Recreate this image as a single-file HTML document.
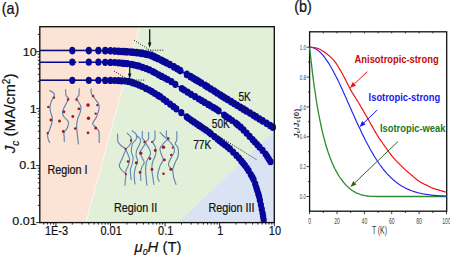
<!DOCTYPE html>
<html><head><meta charset="utf-8"><title>Figure</title>
<style>html,body{margin:0;padding:0;background:#fff}body{width:450px;height:258px;overflow:hidden}</style></head>
<body>
<svg width="450" height="258" viewBox="0 0 450 258" style="display:block">
<rect width="450" height="258" fill="#fff"/>
<defs><clipPath id="cp"><rect x="39.8" y="26.7" width="234.5" height="195.9"/></clipPath><clipPath id="cp2"><rect x="39.8" y="26.7" width="238.5" height="196.3"/></clipPath></defs>
<g clip-path="url(#cp)">
<rect x="39.8" y="26.7" width="234.5" height="195.9" fill="#e2f0d9"/>
<polygon points="39.8,26.7 139.3,26.7 85.8,222.6 39.8,222.6" fill="#fbe3d5"/>
<polygon points="178.3,222.6 274.3,131 274.3,222.6" fill="#dae3f3"/>
<line x1="139.3" y1="26.7" x2="85.8" y2="222.6" stroke="#fff" stroke-width="0.9" opacity=".75"/>
</g>
<g fill="none" stroke="#6083b0" stroke-width="1.15" stroke-linecap="round" stroke-linejoin="round">
<path d="M49.6,90.7 C50.1,90.9 51.7,91.3 52.5,92.0 C53.3,92.7 54.3,93.6 54.4,94.6 C54.5,95.6 53.5,96.9 53.0,98.0 C52.5,99.1 52.0,99.6 51.5,101.0 C51.0,102.4 50.1,104.6 50.0,106.4 C49.9,108.2 50.2,110.1 50.6,112.0 C51.0,113.9 52.1,116.0 52.3,118.0 C52.5,120.0 52.1,122.0 51.6,124.0 C51.1,126.0 50.1,128.3 49.5,130.0 C48.9,131.7 48.0,132.6 47.7,134.0 C47.5,135.4 47.7,137.1 48.0,138.5 C48.3,139.9 49.3,141.8 49.6,142.4"/>
<path d="M65.6,89.6 C65.6,90.2 65.7,91.9 65.8,93.0 C65.9,94.1 65.7,95.1 66.2,96.0 C66.7,96.9 68.7,97.4 68.8,98.4 C68.9,99.4 67.8,100.5 67.0,102.0 C66.2,103.5 65.0,105.8 64.2,107.5 C63.4,109.2 62.4,111.0 62.4,112.5 C62.4,114.0 63.1,115.5 64.0,116.8 C64.8,118.1 66.7,119.5 67.5,120.5 C68.3,121.5 68.6,121.8 68.6,123.0 C68.5,124.2 68.0,126.4 67.2,128.0 C66.4,129.6 64.5,131.3 64.0,132.8 C63.5,134.3 64.2,135.5 64.2,137.0 C64.2,138.5 64.3,140.8 64.3,141.6"/>
<path d="M79.2,88.8 C79.2,89.3 79.1,90.9 79.1,92.0 C79.0,93.1 79.3,94.1 78.9,95.2 C78.5,96.3 76.9,97.3 76.8,98.4 C76.7,99.5 77.8,100.7 78.5,102.0 C79.2,103.3 80.5,104.7 80.8,106.4 C81.1,108.1 80.8,109.9 80.3,112.0 C79.8,114.1 78.2,116.5 77.6,119.0 C77.0,121.5 76.6,124.3 76.6,127.0 C76.6,129.7 77.1,132.2 77.4,135.0 C77.7,137.8 78.2,142.5 78.4,144.0"/>
<path d="M91.2,88.8 C91.2,89.6 90.7,91.9 91.4,93.6 C92.1,95.3 93.9,97.3 95.2,99.2 C96.5,101.1 98.5,102.8 99.0,104.8 C99.5,106.8 99.0,109.1 98.5,111.2 C98.0,113.3 97.2,115.4 96.2,117.5 C95.2,119.6 92.7,122.0 92.6,123.6 C92.5,125.2 94.5,125.7 95.5,127.0 C96.5,128.3 98.2,129.5 98.8,131.2 C99.4,132.9 99.1,135.1 99.2,137.0 C99.3,138.9 99.2,141.5 99.2,142.4"/>
</g>
<g fill="#9c1a1e">
<circle cx="54" cy="97.6" r="1.2"/>
<circle cx="48.3" cy="106.9" r="1.2"/>
<circle cx="50.9" cy="120" r="1.4"/>
<circle cx="59.5" cy="121.1" r="1.5"/>
<circle cx="47.7" cy="133.1" r="1.2"/>
<circle cx="68" cy="99.5" r="1.2"/>
<circle cx="64" cy="111.8" r="1.4"/>
<circle cx="72.8" cy="116.5" r="1.4"/>
<circle cx="63.2" cy="131.5" r="1.4"/>
<circle cx="76.5" cy="99.5" r="1.2"/>
<circle cx="78.9" cy="108.8" r="1.4"/>
<circle cx="75.2" cy="128.5" r="1.3"/>
<circle cx="93.1" cy="96" r="1.2"/>
<circle cx="88" cy="105.1" r="1.8"/>
<circle cx="97.3" cy="105.1" r="1.2"/>
<circle cx="95.7" cy="113.6" r="1.2"/>
<circle cx="88.5" cy="118.2" r="1.7"/>
<circle cx="95.7" cy="128" r="1.5"/>
<circle cx="88" cy="132.8" r="1.4"/>
</g>
<g fill="none" stroke="#6083b0" stroke-width="1.1" stroke-linecap="round" stroke-linejoin="round">
<path d="M117.6,134.0 C117.6,134.7 117.6,136.7 117.7,138.0 C117.8,139.3 117.4,140.7 118.0,142.0 C118.6,143.3 120.2,144.8 121.5,146.0 C122.8,147.2 125.2,147.9 125.6,149.2 C126.0,150.5 124.6,152.4 124.0,154.0 C123.4,155.6 122.8,157.1 122.0,159.0 C121.2,160.9 119.4,163.7 119.3,165.5 C119.2,167.3 120.5,168.6 121.5,170.0 C122.5,171.4 125.0,172.3 125.6,174.0 C126.2,175.7 125.4,178.1 125.3,180.0 C125.2,181.9 125.1,184.3 125.1,185.2"/>
<path d="M125.6,149.2 C126.0,150.0 127.1,152.3 127.8,154.0 C128.5,155.7 129.5,157.8 129.6,159.6 C129.7,161.4 129.1,163.2 128.5,165.0 C127.9,166.8 126.5,169.0 126.0,170.5 C125.5,172.0 125.7,173.4 125.6,174.0"/>
<path d="M127.2,133.2 C127.6,133.6 128.8,134.7 129.5,135.5 C130.2,136.3 130.9,136.9 131.2,138.0 C131.5,139.1 131.8,140.6 131.4,142.0 C131.0,143.4 129.5,145.3 128.5,146.5 C127.5,147.7 126.1,148.8 125.6,149.2"/>
<path d="M132.0,130.8 C132.5,131.2 134.2,132.2 135.0,133.0 C135.8,133.8 136.6,134.5 136.8,135.6 C137.0,136.7 136.7,138.3 136.0,139.6 C135.3,140.9 133.3,141.6 132.5,143.6 C131.7,145.6 131.2,149.4 131.3,151.6 C131.4,153.8 132.8,155.1 133.0,157.0 C133.2,158.9 132.9,161.0 132.5,163.0 C132.1,165.0 130.8,167.0 130.5,169.0 C130.2,171.0 130.5,173.2 130.6,175.0 C130.7,176.8 131.1,178.8 131.2,179.6"/>
<path d="M136.2,135.8 C136.7,136.1 138.2,136.7 139.0,137.5 C139.8,138.3 140.8,139.1 140.8,140.4 C140.8,141.7 139.7,143.7 139.0,145.5 C138.3,147.3 137.0,149.2 136.5,151.0 C136.0,152.8 136.0,154.3 136.2,156.0 C136.4,157.7 137.7,159.4 137.6,161.2 C137.5,163.0 136.1,165.1 135.6,167.0 C135.1,168.9 134.6,170.6 134.4,172.4 C134.2,174.2 134.2,176.1 134.3,178.0 C134.4,179.9 134.9,183.0 135.0,184.0"/>
<path d="M142.4,131.6 C142.4,132.7 141.9,136.2 142.4,138.0 C142.9,139.8 145.6,140.7 145.6,142.4 C145.6,144.1 143.4,146.3 142.5,148.0 C141.6,149.7 140.1,151.0 140.0,152.6 C139.9,154.2 141.3,155.8 142.0,157.5 C142.7,159.2 144.3,160.8 144.2,162.6 C144.1,164.3 142.1,166.1 141.5,168.0 C140.9,169.9 140.7,171.9 140.6,174.0 C140.5,176.1 140.8,179.3 140.8,180.4"/>
<path d="M148.5,132.4 C148.5,133.5 149.0,137.1 148.5,138.8 C148.0,140.5 145.5,140.9 145.6,142.4 C145.7,143.9 148.0,146.2 148.8,148.0 C149.6,149.8 150.7,151.5 150.6,153.2 C150.5,154.9 149.2,156.5 148.5,158.0 C147.8,159.5 146.9,159.9 146.4,162.0 C145.9,164.1 145.6,168.1 145.6,170.8 C145.6,173.5 146.0,175.6 146.2,178.0 C146.4,180.4 146.8,184.0 146.9,185.2"/>
<path d="M154.9,130.8 C154.9,132.1 155.2,136.9 154.9,138.8 C154.6,140.7 152.8,140.8 152.8,142.0 C152.8,143.2 154.3,144.7 154.8,146.0 C155.3,147.3 155.9,148.3 156.0,150.0 C156.1,151.7 155.8,154.0 155.2,156.0 C154.6,158.0 153.2,159.8 152.6,162.0 C152.0,164.2 151.8,166.5 151.8,169.0 C151.8,171.5 152.5,174.4 152.8,177.0 C153.2,179.6 153.7,183.2 153.9,184.4"/>
<path d="M160.0,132.4 C160.4,132.8 161.6,134.1 162.5,135.0 C163.4,135.9 164.2,136.6 165.5,137.8 C166.8,139.0 168.7,140.5 170.0,142.0 C171.3,143.5 172.9,145.2 173.6,146.8 C174.3,148.4 174.7,149.9 174.4,151.6 C174.1,153.3 172.5,155.3 171.6,157.0 C170.7,158.7 169.5,160.5 169.0,162.0 C168.5,163.5 168.2,164.7 168.8,166.0 C169.4,167.3 171.7,168.1 172.5,170.0 C173.3,171.9 173.0,174.8 173.6,177.2 C174.2,179.6 175.6,183.2 176.0,184.4"/>
<path d="M166.4,130.8 C166.4,131.7 166.1,135.1 166.4,136.4 C166.7,137.7 168.5,137.6 168.0,138.8 C167.5,140.0 164.7,142.0 163.4,143.6 C162.1,145.2 160.4,146.7 160.0,148.4 C159.6,150.1 160.7,152.1 161.2,154.0 C161.7,155.9 163.3,157.8 163.2,159.6 C163.1,161.4 161.3,163.1 160.5,165.0 C159.7,166.9 158.9,169.0 158.4,171.0 C157.9,173.0 157.5,175.5 157.6,177.2 C157.7,178.9 158.9,180.5 159.2,181.2"/>
<path d="M176.8,131.6 C176.8,132.9 177.1,137.6 176.8,139.6 C176.5,141.6 175.1,142.4 175.2,143.6 C175.3,144.8 177.0,145.6 177.6,147.0 C178.2,148.4 178.5,150.2 178.5,152.0 C178.5,153.8 178.2,155.7 177.6,157.5 C177.0,159.3 175.8,160.9 175.0,163.0 C174.2,165.1 172.9,168.8 172.5,170.0"/>
</g>
<g fill="#9c1a1e">
<circle cx="130.9" cy="140.4" r="1.1"/>
<circle cx="125.6" cy="148.8" r="1.1"/>
<circle cx="128" cy="161.5" r="1.3"/>
<circle cx="136.3" cy="162.8" r="1.5"/>
<circle cx="144.5" cy="142" r="1.2"/>
<circle cx="140.8" cy="153.2" r="1.6"/>
<circle cx="150" cy="158.6" r="1.3"/>
<circle cx="152" cy="142" r="1.1"/>
<circle cx="155.2" cy="150.5" r="1.4"/>
<circle cx="152" cy="169.5" r="1.4"/>
<circle cx="140" cy="172.4" r="1.3"/>
<circle cx="126" cy="174.3" r="1.0"/>
<circle cx="168.3" cy="138.5" r="1.3"/>
<circle cx="163.5" cy="147.3" r="1.7"/>
<circle cx="172.8" cy="147.6" r="1.1"/>
<circle cx="171.2" cy="154.9" r="1.2"/>
<circle cx="164.4" cy="159.9" r="1.4"/>
<circle cx="170.9" cy="169.2" r="1.5"/>
<circle cx="163.5" cy="173.7" r="1.3"/>
</g>
<g clip-path="url(#cp2)">
<polyline points="39.8,50.6 41.5,50.6 43.2,50.6 44.9,50.6 46.6,50.6 48.3,50.6 50.0,50.6 51.7,50.6 53.4,50.6 55.1,50.6 56.8,50.6 58.5,50.6 60.2,50.6 61.9,50.6 63.6,50.6 65.3,50.6 67.0,50.6 68.7,50.6 70.4,50.6 72.1,50.6 73.8,50.6 75.5,50.6 77.2,50.6 78.9,50.6 80.6,50.6 82.3,50.6 84.0,50.6 85.7,50.6 87.4,50.6 89.1,50.6 90.8,50.6 92.5,50.6 94.2,50.6 95.9,50.6 97.6,50.6 99.3,50.6 101.0,50.6 102.7,50.7 104.4,50.7 106.1,50.7 107.8,50.8 109.5,50.8 111.2,50.9 112.9,51.0 114.6,51.1 116.3,51.2 118.0,51.3 119.7,51.4 121.4,51.5 123.1,51.6 124.8,51.7 126.5,51.8 128.2,51.9 129.9,52.0 131.6,52.2 133.3,52.3 134.9,52.5 136.6,52.7 138.3,52.8 140.0,53.0 141.7,53.3 143.4,53.7 145.0,54.0 146.7,54.3 148.4,54.7 150.0,55.1 151.6,55.7 153.1,56.4 154.7,57.1 156.2,57.8 157.8,58.5 159.3,59.2 160.9,59.9 162.4,60.7 163.9,61.5 165.4,62.3 166.9,63.0 168.4,63.8 169.9,64.6 171.4,65.4 172.9,66.3 174.4,67.1 175.8,68.0 177.3,68.8 178.8,69.7 180.2,70.5 181.7,71.4 183.2,72.3 184.6,73.1 186.1,74.0 187.6,74.9 189.0,75.7 190.5,76.6 191.9,77.5 193.4,78.3 194.9,79.2 196.3,80.1 197.8,80.9 199.3,81.8 200.7,82.7 202.2,83.5 203.6,84.4 205.1,85.3 206.5,86.2 208.0,87.1 209.4,88.0 210.8,88.9 212.3,89.8 213.7,90.7 215.1,91.7 216.6,92.6 218.0,93.5 219.4,94.4 220.9,95.3 222.3,96.2 223.8,97.1 225.2,98.0 226.7,98.9 228.1,99.8 229.6,100.7 231.0,101.6 232.5,102.5 233.9,103.3 235.4,104.2 236.8,105.1 238.3,106.0 239.7,106.9 241.2,107.8 242.6,108.6 244.1,109.5 245.5,110.4 247.0,111.3 248.4,112.2 249.9,113.1 251.3,114.0 252.8,114.8 254.2,115.7 255.7,116.6 257.1,117.5 258.6,118.4 260.0,119.3 261.5,120.2 262.9,121.1 264.4,121.9 265.8,122.8 267.3,123.7 268.7,124.6 270.2,125.5 271.6,126.4 273.1,127.3" fill="none" stroke="#07079b" stroke-width="1.5"/>
<g fill="#07079b">
<ellipse cx="72.3" cy="50.6" rx="3.1" ry="3.85"/>
<ellipse cx="88.8" cy="50.6" rx="3.1" ry="3.85"/>
<ellipse cx="98.4" cy="50.6" rx="3.1" ry="3.85"/>
<ellipse cx="105.2" cy="50.7" rx="3.1" ry="3.85"/>
<ellipse cx="110.5" cy="50.8" rx="3.1" ry="3.85"/>
<ellipse cx="114.8" cy="51.1" rx="3.1" ry="3.85"/>
<ellipse cx="118.5" cy="51.3" rx="3.1" ry="3.85"/>
<ellipse cx="121.7" cy="51.5" rx="3.1" ry="3.85"/>
<ellipse cx="124.7" cy="51.7" rx="3.1" ry="3.85"/>
<ellipse cx="127.3" cy="51.8" rx="3.1" ry="3.85"/>
<ellipse cx="130.8" cy="52.1" rx="3.1" ry="3.85"/>
<ellipse cx="133.3" cy="52.3" rx="3.1" ry="3.85"/>
<ellipse cx="136.6" cy="52.7" rx="3.1" ry="3.85"/>
<ellipse cx="139.7" cy="53.0" rx="3.1" ry="3.85"/>
<ellipse cx="142.1" cy="53.4" rx="3.1" ry="3.85"/>
<ellipse cx="145.3" cy="54.1" rx="3.1" ry="3.85"/>
<ellipse cx="147.7" cy="54.5" rx="3.1" ry="3.85"/>
<ellipse cx="150.7" cy="55.3" rx="3.1" ry="3.85"/>
<ellipse cx="153.0" cy="56.3" rx="3.1" ry="3.85"/>
<ellipse cx="155.3" cy="57.4" rx="3.1" ry="3.85"/>
<ellipse cx="158.1" cy="58.7" rx="3.1" ry="3.85"/>
<ellipse cx="161.6" cy="60.3" rx="3.1" ry="3.85"/>
<ellipse cx="163.9" cy="61.5" rx="3.1" ry="3.85"/>
<ellipse cx="166.4" cy="62.8" rx="3.1" ry="3.85"/>
<ellipse cx="169.9" cy="64.6" rx="3.1" ry="3.85"/>
<ellipse cx="174.0" cy="66.9" rx="3.1" ry="3.85"/>
<ellipse cx="177.3" cy="68.8" rx="3.1" ry="3.85"/>
<ellipse cx="180.3" cy="70.6" rx="3.1" ry="3.85"/>
<ellipse cx="186.8" cy="74.4" rx="3.1" ry="3.85"/>
<ellipse cx="190.6" cy="76.7" rx="3.1" ry="3.85"/>
<ellipse cx="193.4" cy="78.3" rx="3.1" ry="3.85"/>
<ellipse cx="196.0" cy="79.9" rx="3.1" ry="3.85"/>
<ellipse cx="198.5" cy="81.3" rx="3.1" ry="3.85"/>
<ellipse cx="201.3" cy="83.0" rx="3.1" ry="3.85"/>
<ellipse cx="205.1" cy="85.3" rx="3.1" ry="3.85"/>
<ellipse cx="207.6" cy="86.9" rx="3.1" ry="3.85"/>
<ellipse cx="210.9" cy="89.0" rx="3.1" ry="3.85"/>
<ellipse cx="214.3" cy="91.1" rx="3.1" ry="3.85"/>
<ellipse cx="217.2" cy="93.0" rx="3.1" ry="3.85"/>
<ellipse cx="220.4" cy="95.0" rx="3.1" ry="3.85"/>
<ellipse cx="222.7" cy="96.5" rx="3.1" ry="3.85"/>
<ellipse cx="225.1" cy="98.0" rx="3.1" ry="3.85"/>
<ellipse cx="227.7" cy="99.6" rx="3.1" ry="3.85"/>
<ellipse cx="231.2" cy="101.7" rx="3.1" ry="3.85"/>
<ellipse cx="234.2" cy="103.5" rx="3.1" ry="3.85"/>
<ellipse cx="237.1" cy="105.3" rx="3.1" ry="3.85"/>
<ellipse cx="240.4" cy="107.3" rx="3.1" ry="3.85"/>
<ellipse cx="243.5" cy="109.2" rx="3.1" ry="3.85"/>
<ellipse cx="246.3" cy="110.9" rx="3.1" ry="3.85"/>
<ellipse cx="250.0" cy="113.1" rx="3.1" ry="3.85"/>
<ellipse cx="253.5" cy="115.3" rx="3.1" ry="3.85"/>
<ellipse cx="256.2" cy="116.9" rx="3.1" ry="3.85"/>
<ellipse cx="259.5" cy="119.0" rx="3.1" ry="3.85"/>
<ellipse cx="262.7" cy="120.9" rx="3.1" ry="3.85"/>
<ellipse cx="266.6" cy="123.3" rx="3.1" ry="3.85"/>
<ellipse cx="270.2" cy="125.5" rx="3.1" ry="3.85"/>
<ellipse cx="272.9" cy="127.2" rx="3.1" ry="3.85"/>
</g>
<polyline points="39.8,62.2 41.6,62.2 43.3,62.2 45.1,62.2 46.9,62.2 48.7,62.2 50.4,62.2 52.2,62.2 54.0,62.2 55.7,62.2 57.5,62.2 59.3,62.2 61.0,62.2 62.8,62.2 64.6,62.2 66.4,62.2 68.1,62.2 69.9,62.2 71.7,62.2 73.4,62.2 75.2,62.2 77.0,62.2 78.8,62.2 80.5,62.2 82.3,62.2 84.1,62.2 85.8,62.2 87.6,62.2 89.4,62.2 91.1,62.2 92.9,62.2 94.7,62.2 96.5,62.2 98.2,62.2 100.0,62.2 101.8,62.2 103.5,62.3 105.3,62.3 107.1,62.3 108.9,62.4 110.6,62.4 112.4,62.4 114.2,62.5 115.9,62.6 117.7,62.8 119.5,62.9 121.2,63.1 123.0,63.3 124.7,63.5 126.5,63.7 128.3,63.8 130.0,64.1 131.7,64.4 133.5,64.8 135.2,65.2 136.9,65.6 138.7,66.0 140.4,66.5 142.0,67.0 143.7,67.7 145.3,68.3 147.0,68.9 148.7,69.5 150.3,70.2 151.9,71.0 153.4,71.9 155.0,72.7 156.5,73.6 158.1,74.4 159.6,75.3 161.2,76.1 162.7,77.0 164.3,77.8 165.9,78.6 167.4,79.4 169.0,80.3 170.5,81.2 172.0,82.1 173.5,83.1 175.0,84.1 176.5,85.0 177.9,86.0 179.4,87.0 180.9,87.9 182.4,88.9 183.9,89.9 185.4,90.8 186.9,91.8 188.4,92.7 189.9,93.6 191.4,94.5 192.9,95.4 194.5,96.3 196.0,97.2 197.5,98.1 199.0,99.0 200.6,99.9 202.1,100.8 203.6,101.7 205.1,102.6 206.7,103.5 208.2,104.4 209.7,105.3 211.2,106.2 212.7,107.1 214.3,108.1 215.8,109.0 217.3,109.9 218.7,110.9 220.1,112.0 221.5,113.1 222.9,114.2 224.3,115.2 225.8,116.2 227.3,117.2 228.8,118.2 230.2,119.2 231.7,120.2 233.2,121.1 234.6,122.2 236.0,123.3 237.3,124.4 238.7,125.6 240.1,126.7 241.4,127.8 242.7,129.0 243.9,130.3 245.1,131.6 246.3,132.9 247.5,134.2 248.8,135.5 250.0,136.8 251.2,138.1 252.4,139.4 253.6,140.7 254.8,142.0 256.0,143.3 257.2,144.6 258.4,145.9 259.6,147.2 260.8,148.5 262.0,149.8 263.2,151.1 264.4,152.4 265.5,153.8 266.4,155.3 267.4,156.8 268.3,158.3 269.3,159.8 270.2,161.3" fill="none" stroke="#07079b" stroke-width="1.5"/>
<g fill="#07079b">
<ellipse cx="72.3" cy="62.2" rx="3.1" ry="3.6"/>
<ellipse cx="88.8" cy="62.2" rx="3.1" ry="3.6"/>
<ellipse cx="98.4" cy="62.2" rx="3.1" ry="3.6"/>
<ellipse cx="105.2" cy="62.3" rx="3.1" ry="3.6"/>
<ellipse cx="110.5" cy="62.4" rx="3.1" ry="3.6"/>
<ellipse cx="114.8" cy="62.5" rx="3.1" ry="3.6"/>
<ellipse cx="118.5" cy="62.8" rx="3.1" ry="3.6"/>
<ellipse cx="121.7" cy="63.2" rx="3.1" ry="3.6"/>
<ellipse cx="124.3" cy="63.4" rx="3.1" ry="3.6"/>
<ellipse cx="127.4" cy="63.7" rx="3.1" ry="3.6"/>
<ellipse cx="131.1" cy="64.3" rx="3.1" ry="3.6"/>
<ellipse cx="133.7" cy="64.8" rx="3.1" ry="3.6"/>
<ellipse cx="136.8" cy="65.6" rx="3.1" ry="3.6"/>
<ellipse cx="139.2" cy="66.1" rx="3.1" ry="3.6"/>
<ellipse cx="142.6" cy="67.3" rx="3.1" ry="3.6"/>
<ellipse cx="146.2" cy="68.6" rx="3.1" ry="3.6"/>
<ellipse cx="149.4" cy="69.8" rx="3.1" ry="3.6"/>
<ellipse cx="152.9" cy="71.6" rx="3.1" ry="3.6"/>
<ellipse cx="155.5" cy="73.0" rx="3.1" ry="3.6"/>
<ellipse cx="158.7" cy="74.8" rx="3.1" ry="3.6"/>
<ellipse cx="161.7" cy="76.4" rx="3.1" ry="3.6"/>
<ellipse cx="164.8" cy="78.0" rx="3.1" ry="3.6"/>
<ellipse cx="167.6" cy="79.5" rx="3.1" ry="3.6"/>
<ellipse cx="171.4" cy="81.7" rx="3.1" ry="3.6"/>
<ellipse cx="175.3" cy="84.3" rx="3.1" ry="3.6"/>
<ellipse cx="181.8" cy="88.5" rx="3.1" ry="3.6"/>
<ellipse cx="184.1" cy="90.0" rx="3.1" ry="3.6"/>
<ellipse cx="187.6" cy="92.2" rx="3.1" ry="3.6"/>
<ellipse cx="191.0" cy="94.3" rx="3.1" ry="3.6"/>
<ellipse cx="195.1" cy="96.7" rx="3.1" ry="3.6"/>
<ellipse cx="198.9" cy="99.0" rx="3.1" ry="3.6"/>
<ellipse cx="201.7" cy="100.6" rx="3.1" ry="3.6"/>
<ellipse cx="204.7" cy="102.4" rx="3.1" ry="3.6"/>
<ellipse cx="208.2" cy="104.4" rx="3.1" ry="3.6"/>
<ellipse cx="210.5" cy="105.8" rx="3.1" ry="3.6"/>
<ellipse cx="213.6" cy="107.7" rx="3.1" ry="3.6"/>
<ellipse cx="216.2" cy="109.2" rx="3.1" ry="3.6"/>
<ellipse cx="218.6" cy="110.8" rx="3.1" ry="3.6"/>
<ellipse cx="224.2" cy="115.1" rx="3.1" ry="3.6"/>
<ellipse cx="226.6" cy="116.8" rx="3.1" ry="3.6"/>
<ellipse cx="229.3" cy="118.5" rx="3.1" ry="3.6"/>
<ellipse cx="232.1" cy="120.5" rx="3.1" ry="3.6"/>
<ellipse cx="235.8" cy="123.1" rx="3.1" ry="3.6"/>
<ellipse cx="237.9" cy="124.9" rx="3.1" ry="3.6"/>
<ellipse cx="240.7" cy="127.2" rx="3.1" ry="3.6"/>
<ellipse cx="243.5" cy="129.9" rx="3.1" ry="3.6"/>
<ellipse cx="246.6" cy="133.2" rx="3.1" ry="3.6"/>
<ellipse cx="249.6" cy="136.4" rx="3.1" ry="3.6"/>
<ellipse cx="252.6" cy="139.6" rx="3.1" ry="3.6"/>
<ellipse cx="254.8" cy="142.0" rx="3.1" ry="3.6"/>
<ellipse cx="257.2" cy="144.6" rx="3.1" ry="3.6"/>
<ellipse cx="259.5" cy="147.1" rx="3.1" ry="3.6"/>
<ellipse cx="262.6" cy="150.4" rx="3.1" ry="3.6"/>
<ellipse cx="265.6" cy="154.0" rx="3.1" ry="3.6"/>
<ellipse cx="267.2" cy="156.5" rx="3.1" ry="3.6"/>
<ellipse cx="268.8" cy="159.1" rx="3.1" ry="3.6"/>
<ellipse cx="270.5" cy="161.7" rx="3.1" ry="3.6"/>
</g>
<polyline points="39.8,80.3 41.8,80.3 43.7,80.3 45.7,80.3 47.7,80.3 49.6,80.3 51.6,80.3 53.6,80.3 55.5,80.3 57.5,80.3 59.5,80.3 61.4,80.3 63.4,80.3 65.4,80.3 67.3,80.3 69.3,80.3 71.3,80.3 73.2,80.3 75.2,80.3 77.2,80.3 79.1,80.3 81.1,80.3 83.1,80.3 85.0,80.3 87.0,80.3 89.0,80.3 90.9,80.3 92.9,80.3 94.9,80.3 96.8,80.3 98.8,80.3 100.8,80.3 102.7,80.3 104.7,80.4 106.7,80.4 108.6,80.4 110.6,80.4 112.6,80.5 114.5,80.5 116.5,80.6 118.5,80.6 120.4,80.7 122.4,80.8 124.4,80.9 126.3,81.1 128.3,81.4 130.2,81.8 132.0,82.5 133.9,83.1 135.7,83.8 137.6,84.5 139.4,85.2 141.2,86.0 143.0,86.9 144.7,87.8 146.5,88.6 148.2,89.5 150.0,90.4 151.7,91.4 153.3,92.4 155.0,93.5 156.7,94.5 158.4,95.5 160.0,96.6 161.6,97.7 163.2,98.9 164.8,100.1 166.4,101.3 167.9,102.4 169.5,103.6 171.1,104.8 172.6,106.0 174.2,107.2 175.8,108.4 177.3,109.6 178.9,110.8 180.4,112.0 182.0,113.2 183.5,114.4 185.1,115.6 186.7,116.8 188.2,118.0 189.8,119.1 191.4,120.3 193.1,121.4 194.7,122.5 196.3,123.6 198.0,124.7 199.6,125.8 201.2,126.9 202.8,128.0 204.4,129.1 206.1,130.2 207.7,131.4 209.3,132.5 210.8,133.7 212.4,134.9 213.9,136.2 215.4,137.4 216.9,138.6 218.5,139.9 220.0,141.1 221.6,142.3 223.1,143.5 224.7,144.7 226.3,145.9 227.8,147.1 229.3,148.4 230.7,149.7 232.1,151.1 233.5,152.5 234.9,153.9 236.3,155.3 237.7,156.7 239.0,158.1 240.3,159.6 241.5,161.1 242.7,162.7 244.0,164.2 245.2,165.8 246.4,167.3 247.5,168.9 248.5,170.6 249.5,172.3 250.5,174.0 251.5,175.7 252.5,177.4 253.5,179.1 254.3,180.9 254.9,182.8 255.5,184.6 256.0,186.5 256.6,188.4 257.2,190.3 257.8,192.2 258.4,194.0 258.9,195.9 259.4,197.8 259.8,199.8 260.2,201.7 260.6,203.6 261.0,205.5 261.5,207.4 261.9,209.4 262.2,211.3 262.6,213.2 262.9,215.2 263.2,217.1 263.6,219.0 263.9,221.0" fill="none" stroke="#07079b" stroke-width="1.5"/>
<g fill="#07079b">
<ellipse cx="72.3" cy="80.3" rx="3.1" ry="3.6"/>
<ellipse cx="88.8" cy="80.3" rx="3.1" ry="3.6"/>
<ellipse cx="98.4" cy="80.3" rx="3.1" ry="3.6"/>
<ellipse cx="105.2" cy="80.4" rx="3.1" ry="3.6"/>
<ellipse cx="110.5" cy="80.4" rx="3.1" ry="3.6"/>
<ellipse cx="114.8" cy="80.5" rx="3.1" ry="3.6"/>
<ellipse cx="118.5" cy="80.6" rx="3.1" ry="3.6"/>
<ellipse cx="121.7" cy="80.8" rx="3.1" ry="3.6"/>
<ellipse cx="125.0" cy="81.0" rx="3.1" ry="3.6"/>
<ellipse cx="128.4" cy="81.4" rx="3.1" ry="3.6"/>
<ellipse cx="131.1" cy="82.1" rx="3.1" ry="3.6"/>
<ellipse cx="133.3" cy="82.9" rx="3.1" ry="3.6"/>
<ellipse cx="136.3" cy="84.0" rx="3.1" ry="3.6"/>
<ellipse cx="139.1" cy="85.1" rx="3.1" ry="3.6"/>
<ellipse cx="142.2" cy="86.5" rx="3.1" ry="3.6"/>
<ellipse cx="145.9" cy="88.4" rx="3.1" ry="3.6"/>
<ellipse cx="149.2" cy="90.0" rx="3.1" ry="3.6"/>
<ellipse cx="152.0" cy="91.6" rx="3.1" ry="3.6"/>
<ellipse cx="155.0" cy="93.5" rx="3.1" ry="3.6"/>
<ellipse cx="158.1" cy="95.4" rx="3.1" ry="3.6"/>
<ellipse cx="160.2" cy="96.7" rx="3.1" ry="3.6"/>
<ellipse cx="163.4" cy="99.1" rx="3.1" ry="3.6"/>
<ellipse cx="166.5" cy="101.4" rx="3.1" ry="3.6"/>
<ellipse cx="170.1" cy="104.1" rx="3.1" ry="3.6"/>
<ellipse cx="173.5" cy="106.7" rx="3.1" ry="3.6"/>
<ellipse cx="176.3" cy="108.8" rx="3.1" ry="3.6"/>
<ellipse cx="181.3" cy="112.7" rx="3.1" ry="3.6"/>
<ellipse cx="186.7" cy="116.8" rx="3.1" ry="3.6"/>
<ellipse cx="188.9" cy="118.5" rx="3.1" ry="3.6"/>
<ellipse cx="191.4" cy="120.3" rx="3.1" ry="3.6"/>
<ellipse cx="193.9" cy="121.9" rx="3.1" ry="3.6"/>
<ellipse cx="196.7" cy="123.8" rx="3.1" ry="3.6"/>
<ellipse cx="199.0" cy="125.4" rx="3.1" ry="3.6"/>
<ellipse cx="201.2" cy="126.8" rx="3.1" ry="3.6"/>
<ellipse cx="203.6" cy="128.5" rx="3.1" ry="3.6"/>
<ellipse cx="206.0" cy="130.2" rx="3.1" ry="3.6"/>
<ellipse cx="208.8" cy="132.1" rx="3.1" ry="3.6"/>
<ellipse cx="210.9" cy="133.8" rx="3.1" ry="3.6"/>
<ellipse cx="214.4" cy="136.6" rx="3.1" ry="3.6"/>
<ellipse cx="217.5" cy="139.1" rx="3.1" ry="3.6"/>
<ellipse cx="219.8" cy="140.9" rx="3.1" ry="3.6"/>
<ellipse cx="222.3" cy="142.9" rx="3.1" ry="3.6"/>
<ellipse cx="225.0" cy="144.9" rx="3.1" ry="3.6"/>
<ellipse cx="227.7" cy="147.0" rx="3.1" ry="3.6"/>
<ellipse cx="229.9" cy="148.9" rx="3.1" ry="3.6"/>
<ellipse cx="233.1" cy="152.1" rx="3.1" ry="3.6"/>
<ellipse cx="236.4" cy="155.4" rx="3.1" ry="3.6"/>
<ellipse cx="239.0" cy="158.0" rx="3.1" ry="3.6"/>
<ellipse cx="241.3" cy="160.9" rx="3.1" ry="3.6"/>
<ellipse cx="243.1" cy="163.1" rx="3.1" ry="3.6"/>
<ellipse cx="244.9" cy="165.3" rx="3.1" ry="3.6"/>
<ellipse cx="246.9" cy="168.0" rx="3.1" ry="3.6"/>
<ellipse cx="248.6" cy="170.7" rx="3.1" ry="3.6"/>
<ellipse cx="250.8" cy="174.5" rx="3.1" ry="3.6"/>
<ellipse cx="252.3" cy="177.1" rx="3.1" ry="3.6"/>
<ellipse cx="253.6" cy="179.5" rx="3.1" ry="3.6"/>
<ellipse cx="255.2" cy="183.9" rx="3.1" ry="3.6"/>
<ellipse cx="256.3" cy="187.5" rx="3.1" ry="3.6"/>
<ellipse cx="257.2" cy="190.3" rx="3.1" ry="3.6"/>
<ellipse cx="258.3" cy="193.9" rx="3.1" ry="3.6"/>
<ellipse cx="259.1" cy="196.5" rx="3.1" ry="3.6"/>
<ellipse cx="259.9" cy="200.2" rx="3.1" ry="3.6"/>
<ellipse cx="260.9" cy="204.8" rx="3.1" ry="3.6"/>
<ellipse cx="261.8" cy="209.2" rx="3.1" ry="3.6"/>
<ellipse cx="262.6" cy="213.3" rx="3.1" ry="3.6"/>
<ellipse cx="263.1" cy="216.4" rx="3.1" ry="3.6"/>
<ellipse cx="263.7" cy="219.8" rx="3.1" ry="3.6"/>
</g>
<rect x="76.3" y="60.5" width="2.2" height="3.4" fill="#fbe3d5"/>
<g stroke="#1a1a1a" stroke-width="0.9" stroke-dasharray="1.1,1.3" fill="none">
<line x1="39.8" y1="50.2" x2="164.6" y2="50.2"/>
<line x1="134" y1="40.2" x2="274" y2="127.3"/>
<line x1="39.8" y1="80.1" x2="145.5" y2="80.1"/>
<line x1="114" y1="71" x2="257" y2="160"/>
</g>
</g>
<g stroke="#111" stroke-width="1.25" fill="#111">
<line x1="149.7" y1="29.2" x2="149.7" y2="44"/><polygon points="148,42.6 151.4,42.6 149.7,48" stroke="none"/>
<line x1="129.7" y1="63" x2="129.7" y2="75"/><polygon points="128,73.6 131.4,73.6 129.7,79" stroke="none"/>
</g>
<rect x="39.8" y="26.7" width="234.5" height="195.9" fill="none" stroke="#111" stroke-width="1.35"/>
<g stroke="#111" stroke-width="0.9">
<line x1="36.199999999999996" y1="222.6" x2="39.8" y2="222.6"/>
<line x1="37.8" y1="205.4" x2="39.8" y2="205.4"/>
<line x1="37.8" y1="195.4" x2="39.8" y2="195.4"/>
<line x1="37.8" y1="188.3" x2="39.8" y2="188.3"/>
<line x1="37.8" y1="182.8" x2="39.8" y2="182.8"/>
<line x1="37.8" y1="178.2" x2="39.8" y2="178.2"/>
<line x1="37.8" y1="174.4" x2="39.8" y2="174.4"/>
<line x1="37.8" y1="171.1" x2="39.8" y2="171.1"/>
<line x1="37.8" y1="168.2" x2="39.8" y2="168.2"/>
<line x1="36.199999999999996" y1="165.6" x2="39.8" y2="165.6"/>
<line x1="37.8" y1="148.4" x2="39.8" y2="148.4"/>
<line x1="37.8" y1="138.4" x2="39.8" y2="138.4"/>
<line x1="37.8" y1="131.3" x2="39.8" y2="131.3"/>
<line x1="37.8" y1="125.8" x2="39.8" y2="125.8"/>
<line x1="37.8" y1="121.2" x2="39.8" y2="121.2"/>
<line x1="37.8" y1="117.4" x2="39.8" y2="117.4"/>
<line x1="37.8" y1="114.1" x2="39.8" y2="114.1"/>
<line x1="37.8" y1="111.2" x2="39.8" y2="111.2"/>
<line x1="36.199999999999996" y1="108.6" x2="39.8" y2="108.6"/>
<line x1="37.8" y1="91.4" x2="39.8" y2="91.4"/>
<line x1="37.8" y1="81.4" x2="39.8" y2="81.4"/>
<line x1="37.8" y1="74.3" x2="39.8" y2="74.3"/>
<line x1="37.8" y1="68.8" x2="39.8" y2="68.8"/>
<line x1="37.8" y1="64.2" x2="39.8" y2="64.2"/>
<line x1="37.8" y1="60.4" x2="39.8" y2="60.4"/>
<line x1="37.8" y1="57.1" x2="39.8" y2="57.1"/>
<line x1="37.8" y1="54.2" x2="39.8" y2="54.2"/>
<line x1="36.199999999999996" y1="51.6" x2="39.8" y2="51.6"/>
<line x1="37.8" y1="34.4" x2="39.8" y2="34.4"/>
<line x1="55.9" y1="222.6" x2="55.9" y2="226.4"/>
<line x1="43.8" y1="222.6" x2="43.8" y2="224.6"/>
<line x1="47.4" y1="222.6" x2="47.4" y2="224.6"/>
<line x1="50.6" y1="222.6" x2="50.6" y2="224.6"/>
<line x1="53.4" y1="222.6" x2="53.4" y2="224.6"/>
<line x1="110.5" y1="222.6" x2="110.5" y2="226.4"/>
<line x1="72.3" y1="222.6" x2="72.3" y2="224.6"/>
<line x1="82.0" y1="222.6" x2="82.0" y2="224.6"/>
<line x1="88.8" y1="222.6" x2="88.8" y2="224.6"/>
<line x1="94.1" y1="222.6" x2="94.1" y2="224.6"/>
<line x1="98.4" y1="222.6" x2="98.4" y2="224.6"/>
<line x1="102.0" y1="222.6" x2="102.0" y2="224.6"/>
<line x1="105.2" y1="222.6" x2="105.2" y2="224.6"/>
<line x1="108.0" y1="222.6" x2="108.0" y2="224.6"/>
<line x1="165.1" y1="222.6" x2="165.1" y2="226.4"/>
<line x1="126.9" y1="222.6" x2="126.9" y2="224.6"/>
<line x1="136.6" y1="222.6" x2="136.6" y2="224.6"/>
<line x1="143.4" y1="222.6" x2="143.4" y2="224.6"/>
<line x1="148.7" y1="222.6" x2="148.7" y2="224.6"/>
<line x1="153.0" y1="222.6" x2="153.0" y2="224.6"/>
<line x1="156.6" y1="222.6" x2="156.6" y2="224.6"/>
<line x1="159.8" y1="222.6" x2="159.8" y2="224.6"/>
<line x1="162.6" y1="222.6" x2="162.6" y2="224.6"/>
<line x1="219.7" y1="222.6" x2="219.7" y2="226.4"/>
<line x1="181.5" y1="222.6" x2="181.5" y2="224.6"/>
<line x1="191.2" y1="222.6" x2="191.2" y2="224.6"/>
<line x1="198.0" y1="222.6" x2="198.0" y2="224.6"/>
<line x1="203.3" y1="222.6" x2="203.3" y2="224.6"/>
<line x1="207.6" y1="222.6" x2="207.6" y2="224.6"/>
<line x1="211.2" y1="222.6" x2="211.2" y2="224.6"/>
<line x1="214.4" y1="222.6" x2="214.4" y2="224.6"/>
<line x1="217.2" y1="222.6" x2="217.2" y2="224.6"/>
<line x1="274.3" y1="222.6" x2="274.3" y2="226.4"/>
<line x1="236.1" y1="222.6" x2="236.1" y2="224.6"/>
<line x1="245.8" y1="222.6" x2="245.8" y2="224.6"/>
<line x1="252.6" y1="222.6" x2="252.6" y2="224.6"/>
<line x1="257.9" y1="222.6" x2="257.9" y2="224.6"/>
<line x1="262.2" y1="222.6" x2="262.2" y2="224.6"/>
<line x1="265.8" y1="222.6" x2="265.8" y2="224.6"/>
<line x1="269.0" y1="222.6" x2="269.0" y2="224.6"/>
<line x1="271.8" y1="222.6" x2="271.8" y2="224.6"/>
</g>
<text transform="translate(36.6,56.0) scale(1.08,1)" font-family="Liberation Sans, Arial, sans-serif" font-size="11.6" text-anchor="end" fill="#111" stroke="#111" stroke-width="0.2" >10</text>
<text transform="translate(36.6,113.0) scale(1.08,1)" font-family="Liberation Sans, Arial, sans-serif" font-size="11.6" text-anchor="end" fill="#111" stroke="#111" stroke-width="0.2" >1</text>
<text transform="translate(36.6,169.4) scale(1.08,1)" font-family="Liberation Sans, Arial, sans-serif" font-size="11.6" text-anchor="end" fill="#111" stroke="#111" stroke-width="0.2" >0.1</text>
<text transform="translate(36.6,225.4) scale(1.08,1)" font-family="Liberation Sans, Arial, sans-serif" font-size="11.6" text-anchor="end" fill="#111" stroke="#111" stroke-width="0.2" >0.01</text>
<text transform="translate(56.5,235.3) scale(0.89,1)" font-family="Liberation Sans, Arial, sans-serif" font-size="12.3" text-anchor="middle" fill="#111" stroke="#111" stroke-width="0.2" >1E-3</text>
<text transform="translate(111.1,235.3) scale(0.89,1)" font-family="Liberation Sans, Arial, sans-serif" font-size="12.3" text-anchor="middle" fill="#111" stroke="#111" stroke-width="0.2" >0.01</text>
<text transform="translate(165.7,235.3) scale(0.89,1)" font-family="Liberation Sans, Arial, sans-serif" font-size="12.3" text-anchor="middle" fill="#111" stroke="#111" stroke-width="0.2" >0.1</text>
<text transform="translate(220.3,235.3) scale(0.89,1)" font-family="Liberation Sans, Arial, sans-serif" font-size="12.3" text-anchor="middle" fill="#111" stroke="#111" stroke-width="0.2" >1</text>
<text transform="translate(274.9,235.3) scale(0.89,1)" font-family="Liberation Sans, Arial, sans-serif" font-size="12.3" text-anchor="middle" fill="#111" stroke="#111" stroke-width="0.2" >10</text>
<text transform="translate(238.4,100.8) scale(0.83,1)" font-family="Liberation Sans, Arial, sans-serif" font-size="12.2" text-anchor="start" fill="#111" stroke="#111" stroke-width="0.2" >5K</text>
<text transform="translate(211.8,127.6) scale(0.83,1)" font-family="Liberation Sans, Arial, sans-serif" font-size="12.2" text-anchor="start" fill="#111" stroke="#111" stroke-width="0.2" >50K</text>
<text transform="translate(193.2,148.9) scale(0.83,1)" font-family="Liberation Sans, Arial, sans-serif" font-size="12.2" text-anchor="start" fill="#111" stroke="#111" stroke-width="0.2" >77K</text>
<text transform="translate(47.4,173.6) scale(0.9,1)" font-family="Liberation Sans, Arial, sans-serif" font-size="12" text-anchor="start" fill="#111" stroke="#111" stroke-width="0.2" >Region I</text>
<text transform="translate(114,212) scale(0.9,1)" font-family="Liberation Sans, Arial, sans-serif" font-size="12" text-anchor="start" fill="#111" stroke="#111" stroke-width="0.2" >Region II</text>
<text transform="translate(208.4,211.9) scale(0.9,1)" font-family="Liberation Sans, Arial, sans-serif" font-size="12" text-anchor="start" fill="#111" stroke="#111" stroke-width="0.2" >Region III</text>
<text transform="translate(15.3,153.3) rotate(-90)" font-family="Liberation Sans, Arial, sans-serif" font-size="15.2" stroke="#111" stroke-width="0.2" fill="#111"><tspan font-style="italic">J</tspan><tspan font-style="italic" font-size="10" dy="3.5">c</tspan><tspan dy="-3.5"> (MA/cm</tspan><tspan font-size="10" dy="-5.5">2</tspan><tspan dy="5.5">)</tspan></text>
<text transform="translate(134.6,251.6) scale(0.96,1)" font-family="Liberation Sans, Arial, sans-serif" font-size="15.5" fill="#111" stroke="#111" stroke-width="0.2"><tspan font-style="italic">μ</tspan><tspan font-style="italic" font-size="9" dy="3.6">0</tspan><tspan font-style="italic" dy="-3.6">H</tspan> (T)</text>
<text transform="translate(1.8,14.2) scale(0.9,1)" font-family="Liberation Sans, Arial, sans-serif" font-size="16" fill="#111" stroke="#111" stroke-width="0.25">(a)</text>
<text transform="translate(294.2,11.8) scale(0.9,1)" font-family="Liberation Sans, Arial, sans-serif" font-size="16" fill="#111" stroke="#111" stroke-width="0.25">(b)</text>
<rect x="309.6" y="31.8" width="137.1" height="179.4" fill="#fff" stroke="#111" stroke-width="1.3"/>
<polyline points="309.6,47.2 310.3,53.7 311.0,60.0 311.7,65.9 312.3,71.6 313.0,77.1 313.7,82.3 314.4,87.3 315.1,92.0 315.8,96.6 316.4,101.0 317.1,105.1 317.8,109.1 318.5,113.0 319.2,116.6 319.9,120.1 320.6,123.4 321.2,126.6 321.9,129.7 322.6,132.6 323.3,135.5 324.0,138.1 324.7,140.7 325.3,143.2 326.0,145.5 326.7,147.8 327.4,150.0 328.1,152.1 328.8,154.1 329.5,156.0 330.1,157.8 330.8,159.6 331.5,161.3 332.2,162.9 332.9,164.4 333.6,165.9 334.2,167.4 334.9,168.8 335.6,170.1 336.3,171.4 337.0,172.6 337.7,173.8 338.3,174.9 339.0,176.0 339.7,177.1 340.4,178.1 341.1,179.0 341.8,180.0 342.5,180.9 343.1,181.8 343.8,182.6 344.5,183.4 345.2,184.2 345.9,184.9 346.6,185.6 347.2,186.3 347.9,186.9 348.6,187.6 349.3,188.2 350.0,188.7 350.7,189.3 351.4,189.8 352.0,190.3 352.7,190.8 353.4,191.2 354.1,191.6 354.8,192.0 355.5,192.4 356.1,192.8 356.8,193.1 357.5,193.4 358.2,193.7 358.9,194.0 359.6,194.2 360.3,194.5 360.9,194.7 361.6,194.9 362.3,195.1 363.0,195.3 363.7,195.4 364.4,195.5 365.0,195.7 365.7,195.8 366.4,195.9 367.1,196.0 367.8,196.0 368.5,196.1 369.2,196.2 369.8,196.2 370.5,196.3 371.2,196.3 371.9,196.3 372.6,196.4 373.3,196.4 373.9,196.4 374.6,196.4 375.3,196.4 376.0,196.5 376.7,196.5 377.4,196.5 378.1,196.5 378.7,196.5 379.4,196.5 380.1,196.5 380.8,196.5 381.5,196.5 382.2,196.5 382.8,196.5 383.5,196.5 384.2,196.5 384.9,196.5 385.6,196.5 386.3,196.5 386.9,196.5 387.6,196.5 388.3,196.5 389.0,196.5 389.7,196.5 390.4,196.5 391.1,196.5 391.7,196.5 392.4,196.5 393.1,196.5 393.8,196.5 394.5,196.5 395.2,196.5 395.8,196.5 396.5,196.5 397.2,196.5 397.9,196.5 398.6,196.5 399.3,196.5 400.0,196.5 400.6,196.5 401.3,196.5 402.0,196.5 402.7,196.5 403.4,196.5 404.1,196.5 404.7,196.5 405.4,196.5 406.1,196.5 406.8,196.5 407.5,196.5 408.2,196.5 408.9,196.5 409.5,196.5 410.2,196.5 410.9,196.5 411.6,196.5 412.3,196.5 413.0,196.5 413.6,196.5 414.3,196.5 415.0,196.5 415.7,196.5 416.4,196.5 417.1,196.5 417.8,196.5 418.4,196.5 419.1,196.5 419.8,196.5 420.5,196.5 421.2,196.5 421.9,196.5 422.5,196.5 423.2,196.5 423.9,196.5 424.6,196.5 425.3,196.5 426.0,196.5 426.6,196.5 427.3,196.5 428.0,196.5 428.7,196.5 429.4,196.5 430.1,196.5 430.8,196.5 431.4,196.5 432.1,196.5 432.8,196.5 433.5,196.5 434.2,196.5 434.9,196.5 435.5,196.5 436.2,196.5 436.9,196.5 437.6,196.5 438.3,196.5 439.0,196.5 439.7,196.5 440.3,196.5 441.0,196.5 441.7,196.5 442.4,196.5 443.1,196.5 443.8,196.5 444.4,196.5 445.1,196.5 445.8,196.5 446.5,196.5" fill="none" stroke="#2a8c2a" stroke-width="1.3" stroke-linejoin="round"/>
<polyline points="309.6,47.2 310.3,47.2 311.0,47.3 311.7,47.4 312.3,47.5 313.0,47.7 313.7,48.0 314.4,48.3 315.1,48.6 315.8,49.0 316.4,49.4 317.1,49.8 317.8,50.3 318.5,50.9 319.2,51.4 319.9,52.0 320.6,52.7 321.2,53.4 321.9,54.1 322.6,54.9 323.3,55.7 324.0,56.5 324.7,57.4 325.3,58.3 326.0,59.3 326.7,60.3 327.4,61.3 328.1,62.3 328.8,63.4 329.5,64.5 330.1,65.7 330.8,66.8 331.5,68.0 332.2,69.2 332.9,70.5 333.6,71.7 334.2,73.0 334.9,74.3 335.6,75.7 336.3,77.0 337.0,78.4 337.7,79.8 338.3,81.2 339.0,82.6 339.7,84.1 340.4,85.5 341.1,87.0 341.8,88.5 342.5,90.0 343.1,91.5 343.8,93.0 344.5,94.5 345.2,96.1 345.9,97.6 346.6,99.1 347.2,100.7 347.9,102.2 348.6,103.8 349.3,105.3 350.0,106.9 350.7,108.4 351.4,110.0 352.0,111.5 352.7,113.1 353.4,114.6 354.1,116.1 354.8,117.7 355.5,119.2 356.1,120.7 356.8,122.2 357.5,123.7 358.2,125.2 358.9,126.7 359.6,128.1 360.3,129.6 360.9,131.0 361.6,132.5 362.3,133.9 363.0,135.3 363.7,136.7 364.4,138.1 365.0,139.4 365.7,140.8 366.4,142.1 367.1,143.4 367.8,144.7 368.5,146.0 369.2,147.3 369.8,148.5 370.5,149.7 371.2,151.0 371.9,152.1 372.6,153.3 373.3,154.5 373.9,155.6 374.6,156.7 375.3,157.8 376.0,158.9 376.7,160.0 377.4,161.0 378.1,162.0 378.7,163.0 379.4,164.0 380.1,165.0 380.8,165.9 381.5,166.8 382.2,167.7 382.8,168.6 383.5,169.5 384.2,170.3 384.9,171.2 385.6,172.0 386.3,172.8 386.9,173.5 387.6,174.3 388.3,175.0 389.0,175.7 389.7,176.4 390.4,177.1 391.1,177.8 391.7,178.4 392.4,179.0 393.1,179.6 393.8,180.2 394.5,180.8 395.2,181.4 395.8,181.9 396.5,182.5 397.2,183.0 397.9,183.5 398.6,184.0 399.3,184.4 400.0,184.9 400.6,185.3 401.3,185.8 402.0,186.2 402.7,186.6 403.4,187.0 404.1,187.3 404.7,187.7 405.4,188.1 406.1,188.4 406.8,188.7 407.5,189.0 408.2,189.4 408.9,189.6 409.5,189.9 410.2,190.2 410.9,190.5 411.6,190.7 412.3,191.0 413.0,191.2 413.6,191.4 414.3,191.7 415.0,191.9 415.7,192.1 416.4,192.3 417.1,192.5 417.8,192.7 418.4,192.8 419.1,193.0 419.8,193.2 420.5,193.3 421.2,193.5 421.9,193.6 422.5,193.7 423.2,193.9 423.9,194.0 424.6,194.1 425.3,194.2 426.0,194.3 426.6,194.4 427.3,194.5 428.0,194.6 428.7,194.7 429.4,194.8 430.1,194.9 430.8,195.0 431.4,195.1 432.1,195.1 432.8,195.2 433.5,195.3 434.2,195.3 434.9,195.4 435.5,195.5 436.2,195.5 436.9,195.6 437.6,195.6 438.3,195.7 439.0,195.7 439.7,195.7 440.3,195.8 441.0,195.8 441.7,195.9 442.4,195.9 443.1,195.9 443.8,196.0 444.4,196.0 445.1,196.0 445.8,196.0 446.5,196.1" fill="none" stroke="#2020f0" stroke-width="1.15" stroke-linejoin="round"/>
<polyline points="309.6,47.2 310.3,47.3 311.0,47.3 311.7,47.3 312.3,47.3 313.0,47.4 313.7,47.5 314.4,47.6 315.1,47.7 315.8,47.9 316.4,48.0 317.1,48.2 317.8,48.5 318.5,48.7 319.2,49.0 319.9,49.3 320.6,49.7 321.2,50.0 321.9,50.4 322.6,50.9 323.3,51.3 324.0,51.8 324.7,52.3 325.3,52.8 326.0,53.3 326.7,53.8 327.4,54.3 328.1,54.9 328.8,55.4 329.5,56.0 330.1,56.6 330.8,57.2 331.5,57.9 332.2,58.6 332.9,59.3 333.6,60.1 334.2,60.9 334.9,61.8 335.6,62.7 336.3,63.7 337.0,64.7 337.7,65.8 338.3,66.8 339.0,68.0 339.7,69.1 340.4,70.3 341.1,71.5 341.8,72.7 342.5,74.0 343.1,75.2 343.8,76.5 344.5,77.8 345.2,79.1 345.9,80.5 346.6,81.9 347.2,83.3 347.9,84.6 348.6,86.0 349.3,87.3 350.0,88.6 350.7,89.9 351.4,91.1 352.0,92.3 352.7,93.4 353.4,94.5 354.1,95.6 354.8,96.6 355.5,97.7 356.1,98.8 356.8,99.9 357.5,101.0 358.2,102.2 358.9,103.3 359.6,104.4 360.3,105.6 360.9,106.8 361.6,107.9 362.3,109.1 363.0,110.3 363.7,111.5 364.4,112.6 365.0,113.8 365.7,115.0 366.4,116.2 367.1,117.4 367.8,118.6 368.5,119.8 369.2,121.1 369.8,122.3 370.5,123.5 371.2,124.7 371.9,125.9 372.6,127.1 373.3,128.3 373.9,129.5 374.6,130.7 375.3,131.9 376.0,133.1 376.7,134.3 377.4,135.4 378.1,136.5 378.7,137.6 379.4,138.6 380.1,139.6 380.8,140.6 381.5,141.6 382.2,142.5 382.8,143.5 383.5,144.4 384.2,145.4 384.9,146.3 385.6,147.3 386.3,148.2 386.9,149.2 387.6,150.2 388.3,151.1 389.0,152.1 389.7,153.0 390.4,153.9 391.1,154.8 391.7,155.7 392.4,156.5 393.1,157.3 393.8,158.1 394.5,158.8 395.2,159.6 395.8,160.3 396.5,161.0 397.2,161.8 397.9,162.5 398.6,163.2 399.3,163.9 400.0,164.6 400.6,165.3 401.3,166.0 402.0,166.7 402.7,167.3 403.4,168.0 404.1,168.6 404.7,169.2 405.4,169.9 406.1,170.5 406.8,171.1 407.5,171.7 408.2,172.3 408.9,172.8 409.5,173.4 410.2,174.0 410.9,174.6 411.6,175.2 412.3,175.7 413.0,176.3 413.6,176.9 414.3,177.5 415.0,178.1 415.7,178.7 416.4,179.2 417.1,179.8 417.8,180.3 418.4,180.8 419.1,181.3 419.8,181.8 420.5,182.2 421.2,182.6 421.9,182.9 422.5,183.2 423.2,183.6 423.9,183.9 424.6,184.3 425.3,184.6 426.0,184.9 426.6,185.3 427.3,185.6 428.0,185.9 428.7,186.3 429.4,186.6 430.1,186.9 430.8,187.3 431.4,187.6 432.1,187.9 432.8,188.2 433.5,188.4 434.2,188.7 434.9,188.9 435.5,189.1 436.2,189.3 436.9,189.5 437.6,189.7 438.3,189.9 439.0,190.1 439.7,190.3 440.3,190.5 441.0,190.7 441.7,190.9 442.4,191.1 443.1,191.3 443.8,191.5 444.4,191.7 445.1,191.9 445.8,192.0 446.5,192.1" fill="none" stroke="#f01010" stroke-width="1.2" stroke-linejoin="round"/>
<g stroke="#111" stroke-width="0.8">
<line x1="306.6" y1="196.5" x2="309.6" y2="196.5"/>
<line x1="306.6" y1="166.6" x2="309.6" y2="166.6"/>
<line x1="306.6" y1="136.8" x2="309.6" y2="136.8"/>
<line x1="306.6" y1="106.9" x2="309.6" y2="106.9"/>
<line x1="306.6" y1="77.1" x2="309.6" y2="77.1"/>
<line x1="306.6" y1="47.2" x2="309.6" y2="47.2"/>
<line x1="308.0" y1="181.6" x2="309.6" y2="181.6"/>
<line x1="308.0" y1="151.7" x2="309.6" y2="151.7"/>
<line x1="308.0" y1="121.8" x2="309.6" y2="121.8"/>
<line x1="308.0" y1="92.0" x2="309.6" y2="92.0"/>
<line x1="308.0" y1="62.1" x2="309.6" y2="62.1"/>
<line x1="309.6" y1="211.2" x2="309.6" y2="214.2"/>
<line x1="337.0" y1="211.2" x2="337.0" y2="214.2"/>
<line x1="364.4" y1="211.2" x2="364.4" y2="214.2"/>
<line x1="391.7" y1="211.2" x2="391.7" y2="214.2"/>
<line x1="419.1" y1="211.2" x2="419.1" y2="214.2"/>
<line x1="446.5" y1="211.2" x2="446.5" y2="214.2"/>
<line x1="323.3" y1="31.8" x2="323.3" y2="33.4"/>
<line x1="337.0" y1="31.8" x2="337.0" y2="33.4"/>
<line x1="350.7" y1="31.8" x2="350.7" y2="33.4"/>
<line x1="364.4" y1="31.8" x2="364.4" y2="33.4"/>
<line x1="378.1" y1="31.8" x2="378.1" y2="33.4"/>
<line x1="391.7" y1="31.8" x2="391.7" y2="33.4"/>
<line x1="405.4" y1="31.8" x2="405.4" y2="33.4"/>
<line x1="419.1" y1="31.8" x2="419.1" y2="33.4"/>
<line x1="432.8" y1="31.8" x2="432.8" y2="33.4"/>
<line x1="323.3" y1="211.2" x2="323.3" y2="213.0"/>
<line x1="350.7" y1="211.2" x2="350.7" y2="213.0"/>
<line x1="378.1" y1="211.2" x2="378.1" y2="213.0"/>
<line x1="405.4" y1="211.2" x2="405.4" y2="213.0"/>
<line x1="432.8" y1="211.2" x2="432.8" y2="213.0"/>
</g>
<text transform="translate(306,199.1) scale(0.62,1)" font-family="Liberation Sans, Arial, sans-serif" font-size="7.3" text-anchor="end" fill="#444">0.0</text>
<text transform="translate(306,169.2) scale(0.62,1)" font-family="Liberation Sans, Arial, sans-serif" font-size="7.3" text-anchor="end" fill="#444">0.2</text>
<text transform="translate(306,139.4) scale(0.62,1)" font-family="Liberation Sans, Arial, sans-serif" font-size="7.3" text-anchor="end" fill="#444">0.4</text>
<text transform="translate(306,109.5) scale(0.62,1)" font-family="Liberation Sans, Arial, sans-serif" font-size="7.3" text-anchor="end" fill="#444">0.6</text>
<text transform="translate(306,79.7) scale(0.62,1)" font-family="Liberation Sans, Arial, sans-serif" font-size="7.3" text-anchor="end" fill="#444">0.8</text>
<text transform="translate(306,49.8) scale(0.62,1)" font-family="Liberation Sans, Arial, sans-serif" font-size="7.3" text-anchor="end" fill="#444">1.0</text>
<text transform="translate(309.6,224.2) scale(0.62,1)" font-family="Liberation Sans, Arial, sans-serif" font-size="8.2" text-anchor="middle" fill="#444">0</text>
<text transform="translate(337.0,224.2) scale(0.62,1)" font-family="Liberation Sans, Arial, sans-serif" font-size="8.2" text-anchor="middle" fill="#444">20</text>
<text transform="translate(364.4,224.2) scale(0.62,1)" font-family="Liberation Sans, Arial, sans-serif" font-size="8.2" text-anchor="middle" fill="#444">40</text>
<text transform="translate(391.7,224.2) scale(0.62,1)" font-family="Liberation Sans, Arial, sans-serif" font-size="8.2" text-anchor="middle" fill="#444">60</text>
<text transform="translate(419.1,224.2) scale(0.62,1)" font-family="Liberation Sans, Arial, sans-serif" font-size="8.2" text-anchor="middle" fill="#444">80</text>
<text transform="translate(446.5,224.2) scale(0.62,1)" font-family="Liberation Sans, Arial, sans-serif" font-size="8.2" text-anchor="middle" fill="#444">100</text>
<text transform="translate(379.4,234) scale(0.62,1)" font-family="Liberation Sans, Arial, sans-serif" font-size="11" text-anchor="middle" fill="#333">T (K)</text>
<text transform="translate(298.6,138) rotate(-90)" font-family="Liberation Sans, Arial, sans-serif" font-size="7.9" fill="#2a2a2a" font-weight="bold" letter-spacing="0.35"><tspan font-style="italic">J</tspan><tspan font-size="5.5" dy="1.6">c</tspan><tspan dy="-1.6">/</tspan><tspan font-style="italic">J</tspan><tspan font-size="5.5" dy="1.6">c</tspan><tspan dy="-1.6">(0)</tspan></text>
<text transform="translate(354.6,63.2) scale(0.917,1)" font-family="Liberation Sans, Arial, sans-serif" font-size="10.2" font-weight="bold" fill="#bf0a0a">Anisotropic-strong</text>
<text transform="translate(368.6,101.3) scale(0.917,1)" font-family="Liberation Sans, Arial, sans-serif" font-size="10.2" font-weight="bold" fill="#1818ee">Isotropic-strong</text>
<text transform="translate(380,132.3) scale(0.917,1)" font-family="Liberation Sans, Arial, sans-serif" font-size="10.2" font-weight="bold" fill="#1c781c">Isotropic-weak</text>
<line x1="367.4" y1="71.6" x2="354.4" y2="83.9" stroke="#f01010" stroke-width="1.0"/>
<polygon points="350,88 352.7,82.1 356.0,85.6" fill="#f01010"/>
<line x1="377.2" y1="110" x2="363.9" y2="122.8" stroke="#1818ee" stroke-width="1.0"/>
<polygon points="359.6,127 362.2,121.1 365.6,124.6" fill="#1818ee"/>
<line x1="398" y1="141.5" x2="354.8" y2="182.8" stroke="#35651a" stroke-width="1.0"/>
<polygon points="350.5,187 353.2,181.1 356.5,184.6" fill="#35651a"/>
</svg>
</body></html>
